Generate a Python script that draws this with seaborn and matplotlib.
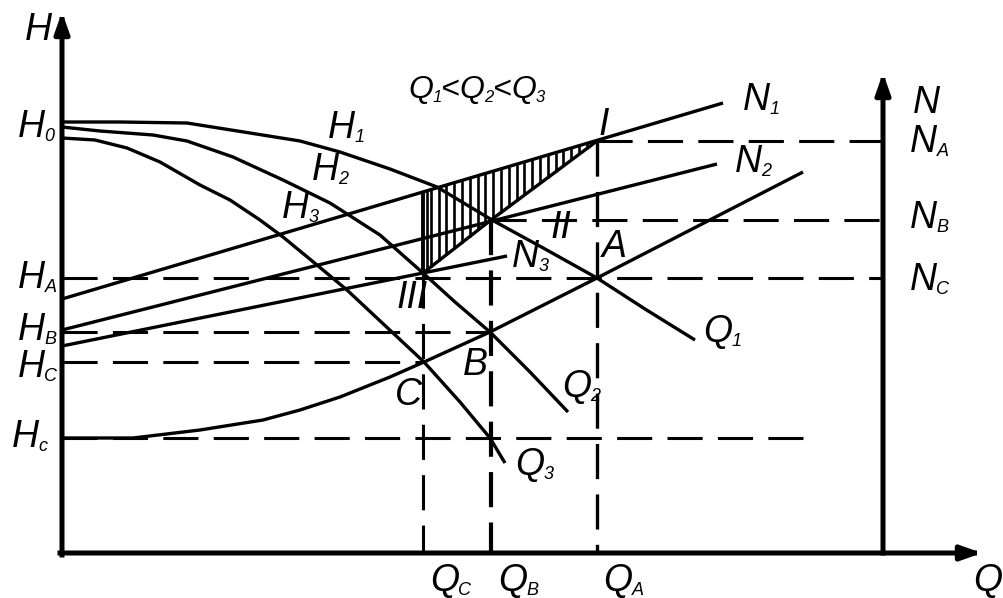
import numpy as np
import matplotlib
matplotlib.use("Agg")
import matplotlib.pyplot as plt
import seaborn as sns

# Pump head curves H(Q) for the three regulation settings
h1_q = [0, 58, 125, 188, 238, 278, 328, 375, 430, 483, 535, 583, 633]
h1_h = [431, 431, 430, 420, 412, 401, 384, 366, 333, 304, 275, 244, 213]
h2_q = [0, 38, 91, 125, 171, 221, 268, 318, 361, 393, 428, 468, 506]
h2_h = [426, 422, 418, 412, 396, 373, 350, 318, 280, 251, 221, 181, 141]
h3_q = [0, 33, 65, 98, 138, 168, 198, 221, 255, 285, 331, 362, 398, 428, 443]
h3_h = [415, 413, 405, 391, 368, 353, 333, 316, 288, 263, 220, 191, 151, 115, 90]

# Pipeline (system) characteristic starting from the static head Hc
sys_q = [0, 71, 138, 201, 238, 278, 328, 362, 428, 535, 638, 741]
sys_h = [115, 115, 123, 133, 143, 156, 176, 191, 221, 275, 328, 381]

# Power curves N(Q)
n1_q, n1_h = [0, 661], [254, 450]
n2_q, n2_h = [0, 655], [223, 389]
n3_q, n3_h = [0, 445], [207, 297]

# Operating points and the matching power points
q_a, q_b, q_c = 535, 429, 361
h_a, h_b, h_c, h_static = 275, 221, 191, 115
n_a, n_b = 412, 333
pow_q = [q_c, q_b, q_a]          # III, II, I
pow_h = [280, 333, 412]

# Axis extents
q_axis_end, h_axis_end = 920, 541
n_axis_q, n_axis_end = 821, 480
static_line_end = 756

sns.set_theme(style="white")
plt.rcParams["font.family"] = ["Liberation Sans", "DejaVu Sans"]

fig = plt.figure(figsize=(10.04, 5.98), dpi=100)
ax = fig.add_axes([0, 0, 1, 1])
ax.set_xlim(-62, 942)
ax.set_ylim(-45, 553)
ax.axis("off")

INK = "black"


def curve(q, h, lw=2.4):
    sns.lineplot(x=q, y=h, ax=ax, color=INK, lw=lw, sort=False,
                 estimator=None, legend=False, solid_joinstyle="round",
                 solid_capstyle="butt")


def guide(q, h, lw=2.2):
    ax.plot(q, h, color=INK, lw=lw, ls=(0, (11.5 * 2.2 / lw, 5 * 2.2 / lw)),
            dash_capstyle="butt")


def arrow(q0, h0, q1, h1):
    ax.annotate("", xy=(q1, h1), xytext=(q0, h0),
                arrowprops=dict(arrowstyle="-|>,head_length=0.62,head_width=0.22",
                                lw=3.6, color=INK, mutation_scale=20,
                                shrinkA=0, shrinkB=0, capstyle="projecting"))


# axes
arrow(0, -2, 0, h_axis_end)
arrow(-2, 0, q_axis_end, 0)
arrow(n_axis_q, 0, n_axis_q, n_axis_end)

# dashed construction lines
guide([0, n_axis_q], [h_a, h_a])
guide([0, q_b], [h_b, h_b])
guide([0, q_c], [h_c, h_c])
guide([0, static_line_end], [h_static, h_static])
guide([q_a, n_axis_q], [n_a, n_a])
guide([q_b, n_axis_q], [n_b, n_b])
guide([q_a, q_a], [n_a, 0], lw=2.4)
guide([q_b, q_b], [n_b, 0], lw=3.0)
guide([q_c, q_c], [pow_h[0], 0], lw=2.2)

# hatched power-loss triangle
hx = np.concatenate([[q_c + 4.5], np.arange(q_c + 7.8, q_a, 7.8)])
top = np.interp(hx, n1_q, n1_h)
bot = np.interp(hx, pow_q, pow_h)
ax.vlines(hx, bot, top, color=INK, lw=1.9)
ax.vlines([q_c], [pow_h[0]], [np.interp(q_c, n1_q, n1_h)], color=INK, lw=2.8)
curve(pow_q, pow_h)

# curves
for q, h in [(h1_q, h1_h), (h2_q, h2_h), (h3_q, h3_h), (sys_q, sys_h),
             (n1_q, n1_h), (n2_q, n2_h), (n3_q, n3_h)]:
    curve(q, h)

renderer = fig.canvas.get_renderer()


def label(q, h, parts, size=27, sub_size=13):
    dx = 0.0
    for text, sub in parts:
        t = ax.annotate(text, xy=(q, h), xytext=(dx, -3 if sub else 0),
                        textcoords="offset points", fontsize=sub_size if sub else size,
                        style="italic", ha="left", va="baseline", color=INK)
        dx += t.get_window_extent(renderer).width * 72 / fig.dpi - (0.5 if not sub else 0)


def sym(main, sub=None):
    return [(main, False)] + ([(sub, True)] if sub else [])


label(-37, 513, sym("H"))
label(-44, 416, sym("H", "0"))
label(-44, 265, sym("H", "A"))
label(-44, 213, sym("H", "B"))
label(-44, 176, sym("H", "C"))
label(-50, 106, sym("H", "c"))
label(346, 455, sym("Q", "1") + [("<", False)] + sym("Q", "2") + [("<", False)] + sym("Q", "3"),
      size=23, sub_size=12)
label(266, 415, sym("H", "1"))
label(250, 373, sym("H", "2"))
label(220, 335, sym("H", "3"))
label(537, 418, sym("I"))
label(489, 315, sym("II"))
label(335, 245, sym("III"))
label(540, 296, sym("A"))
label(450, 286, sym("N", "3"))
label(401, 178, sym("B"))
label(333, 148, sym("C"))
label(500, 156, sym("Q", "2"))
label(453, 78, sym("Q", "3"))
label(641, 211, sym("Q", "1"))
label(368, -38, sym("Q", "C"))
label(436, -38, sym("Q", "B"))
label(541, -38, sym("Q", "A"))
label(911, -38, sym("Q"))
label(681, 443, sym("N", "1"))
label(673, 381, sym("N", "2"))
label(851, 440, sym("N"))
label(848, 401, sym("N", "A"))
label(848, 325, sym("N", "B"))
label(848, 263, sym("N", "C"))

fig.savefig("out.png", dpi=100, facecolor="white")
